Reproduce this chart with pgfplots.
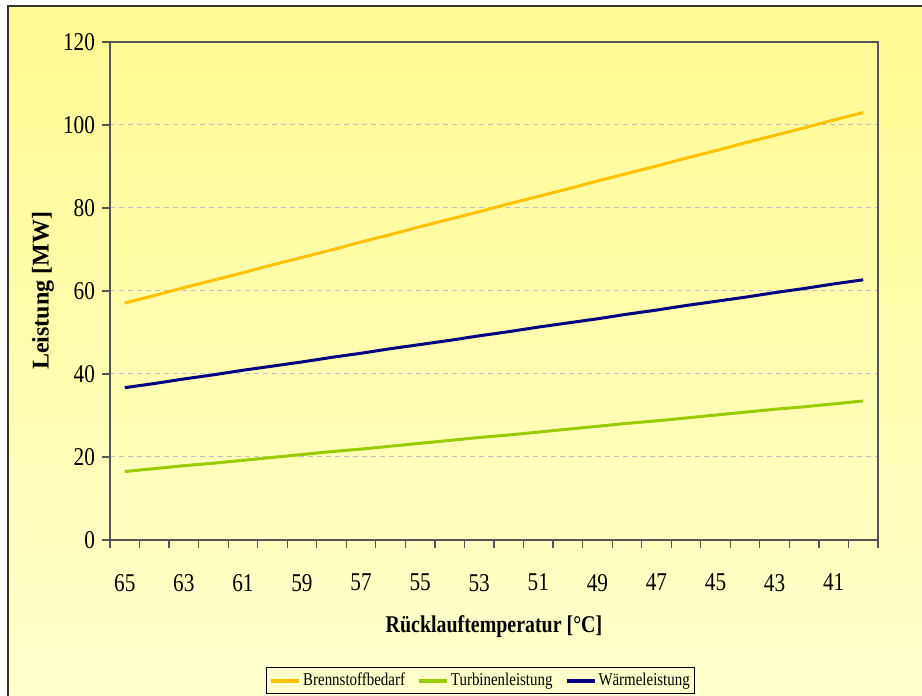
\documentclass[border=0pt]{standalone}
\usepackage{fontspec}
\setmainfont[FakeStretch=0.83]{Liberation Serif}
\newfontfamily\ylabfont{Liberation Serif}
\usepackage{pgfplots}
\usepackage{pgfplotstable}
\pgfplotsset{compat=1.18}

\definecolor{cBrenn}{RGB}{255,192,0}
\definecolor{cTurb}{RGB}{153,204,0}
\definecolor{cWaerme}{RGB}{0,0,128}
\definecolor{bgTop}{RGB}{255,250,145}
\definecolor{bgBot}{RGB}{255,255,205}
\definecolor{frameC}{RGB}{85,85,85}
\definecolor{gridC}{RGB}{190,190,205}

\pgfplotstableread{
i  brenn  turb  waerme
0  57.1   16.5  36.7
1  58.9   17.2  37.7
2  60.8   17.9  38.8
3  62.6   18.5  39.8
4  64.4   19.2  40.9
5  66.3   19.9  41.9
6  68.1   20.6  42.9
7  69.9   21.3  44.0
8  71.8   21.9  45.0
9  73.6   22.6  46.1
10 75.5   23.3  47.1
11 77.3   24.0  48.1
12 79.1   24.7  49.2
13 81.0   25.3  50.2
14 82.8   26.0  51.3
15 84.6   26.7  52.3
16 86.5   27.4  53.3
17 88.3   28.1  54.4
18 90.1   28.7  55.4
19 92.0   29.4  56.5
20 93.8   30.1  57.5
21 95.7   30.8  58.5
22 97.5   31.5  59.6
23 99.3   32.1  60.6
24 101.2  32.8  61.7
25 103.0  33.5  62.7
}\datatable

\begin{document}
\begin{tikzpicture}
\useasboundingbox (0,0) rectangle (461pt,348pt);
\fill[white] (0,0) rectangle (461pt,348pt);
\shade[top color=bgTop,bottom color=bgBot] (4pt,0) rectangle (461pt,345pt);
\draw[black!80, line width=0.8pt] (4pt,0) -- (4pt,345pt) -- (461pt,345pt);
\begin{axis}[
  at={(55pt,78pt)}, anchor=south west,
  scale only axis, width=384pt, height=249pt,
  xmin=-0.5, xmax=25.5, ymin=0, ymax=120,
  xtick={0,2,...,24},
  xticklabels={65,63,61,59,57,55,53,51,49,47,45,43,41},
  minor xtick={-0.5,0.5,...,25.5},
  ytick={0,20,...,120},
  tick pos=left,
  tick align=outside,
  major tick length=4pt,
  minor tick length=4pt,
  major x tick style={draw=none},
  tick style={frameC, line width=0.6pt},
  axis line style={frameC, line width=0.75pt},
  ymajorgrids,
  grid style={gridC, dash pattern=on 2.5pt off 2pt, line width=0.5pt},
  /pgf/number format/assume math mode=true,
  ticklabel style={font=\fontsize{12.8}{14}\selectfont},
  xticklabel style={yshift=-9.5pt},
  xlabel={\textbf{Rücklauftemperatur [°C]}},
  xlabel style={at={(axis description cs:0.5,-0.1867)}, anchor=base, font=\fontsize{12}{14}\selectfont},
  ylabel={\ylabfont\bfseries Leistung [MW]},
  ylabel style={at={(axis description cs:-0.0872,0.5)}, anchor=center, font=\fontsize{12}{14}\selectfont},
  legend columns=3,
  legend style={at={(0.4824,-0.309)}, anchor=south, draw=black, line width=0.5pt, fill=none,
    font=\fontsize{9}{10}\selectfont, inner sep=1.5pt,
    nodes={inner sep=1pt},
    /tikz/every even column/.append style={column sep=5pt}},
  legend image code/.code={\draw[#1, line width=2pt] (0pt,0pt) -- (14pt,0pt);},
]
\addplot[cBrenn, line width=1.5pt] table[x=i, y=brenn]{\datatable};
\addlegendentry{Brennstoffbedarf}
\addplot[cTurb, line width=1.5pt] table[x=i, y=turb]{\datatable};
\addlegendentry{Turbinenleistung}
\addplot[cWaerme, line width=1.5pt] table[x=i, y=waerme]{\datatable};
\addlegendentry{Wärmeleistung}
\end{axis}
\end{tikzpicture}
\end{document}
